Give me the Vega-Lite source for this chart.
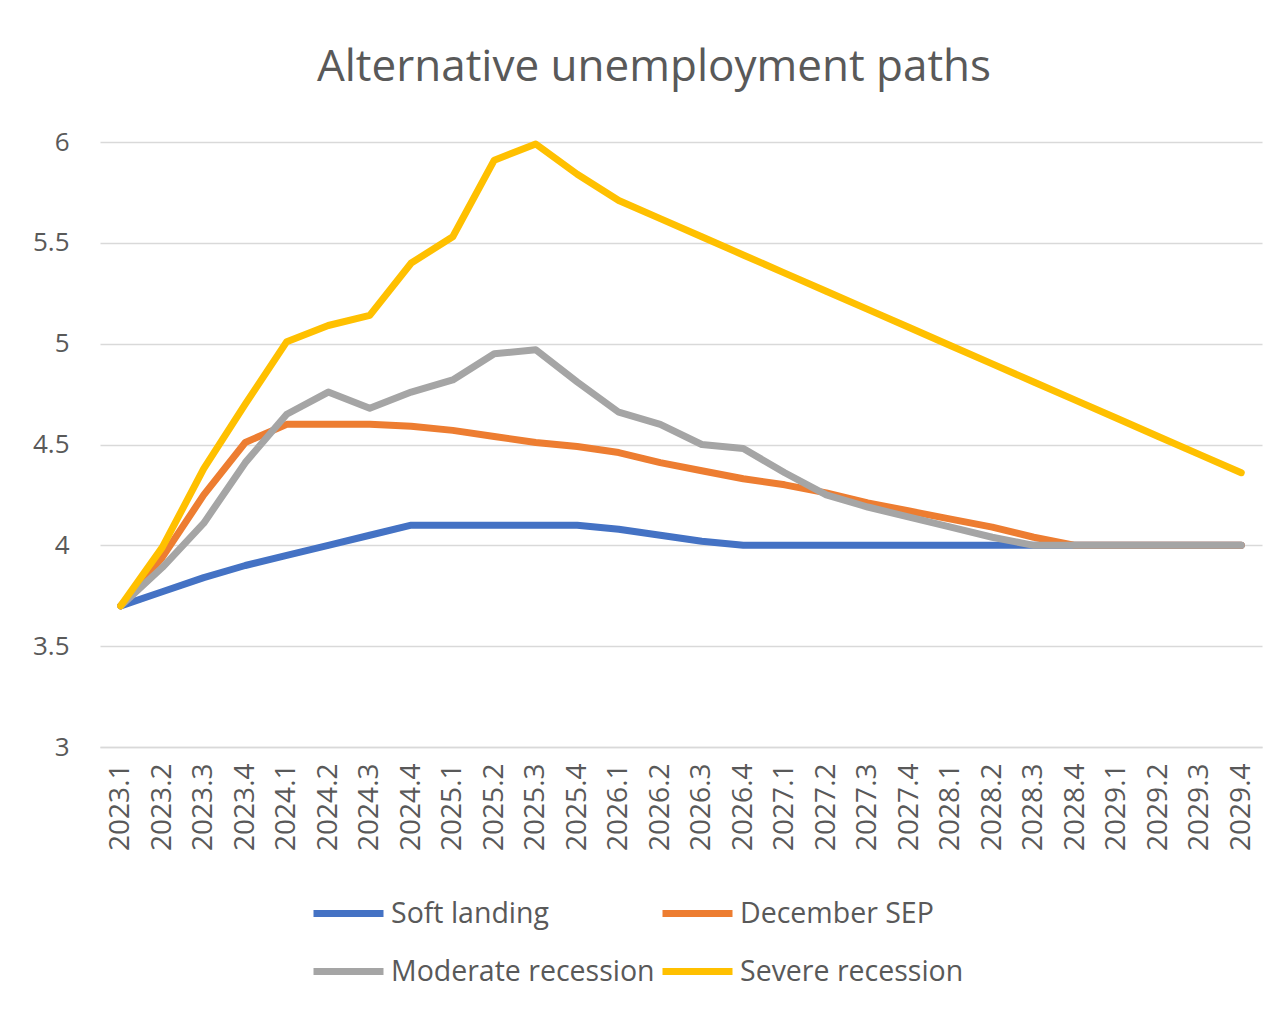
{
  "$schema": "https://vega.github.io/schema/vega-lite/v6.json",
  "autosize": {"type": "none"},
  "width": 1162,
  "height": 605,
  "padding": {"left": 100, "top": 142, "right": 26, "bottom": 268},
  "background": "white",
  "config": {"view": {"stroke": null}},
  "title": {"text": "Alternative unemployment paths", "font": "Open Sans", "fontSize": 44, "fontWeight": "normal", "color": "#595959", "anchor": "middle", "frame": "group", "dx": -27, "baseline": "alphabetic", "offset": 4},
  "datasets": {
    "d": [
      {"q": "2023.1", "s": "Soft landing", "v": 3.70},
      {"q": "2023.2", "s": "Soft landing", "v": 3.77},
      {"q": "2023.3", "s": "Soft landing", "v": 3.84},
      {"q": "2023.4", "s": "Soft landing", "v": 3.90},
      {"q": "2024.1", "s": "Soft landing", "v": 3.95},
      {"q": "2024.2", "s": "Soft landing", "v": 4.00},
      {"q": "2024.3", "s": "Soft landing", "v": 4.05},
      {"q": "2024.4", "s": "Soft landing", "v": 4.10},
      {"q": "2025.1", "s": "Soft landing", "v": 4.10},
      {"q": "2025.2", "s": "Soft landing", "v": 4.10},
      {"q": "2025.3", "s": "Soft landing", "v": 4.10},
      {"q": "2025.4", "s": "Soft landing", "v": 4.10},
      {"q": "2026.1", "s": "Soft landing", "v": 4.08},
      {"q": "2026.2", "s": "Soft landing", "v": 4.05},
      {"q": "2026.3", "s": "Soft landing", "v": 4.02},
      {"q": "2026.4", "s": "Soft landing", "v": 4.00},
      {"q": "2027.1", "s": "Soft landing", "v": 4.00},
      {"q": "2027.2", "s": "Soft landing", "v": 4.00},
      {"q": "2027.3", "s": "Soft landing", "v": 4.00},
      {"q": "2027.4", "s": "Soft landing", "v": 4.00},
      {"q": "2028.1", "s": "Soft landing", "v": 4.00},
      {"q": "2028.2", "s": "Soft landing", "v": 4.00},
      {"q": "2028.3", "s": "Soft landing", "v": 4.00},
      {"q": "2028.4", "s": "Soft landing", "v": 4.00},
      {"q": "2029.1", "s": "Soft landing", "v": 4.00},
      {"q": "2029.2", "s": "Soft landing", "v": 4.00},
      {"q": "2029.3", "s": "Soft landing", "v": 4.00},
      {"q": "2029.4", "s": "Soft landing", "v": 4.00},
      {"q": "2023.1", "s": "December SEP", "v": 3.70},
      {"q": "2023.2", "s": "December SEP", "v": 3.94},
      {"q": "2023.3", "s": "December SEP", "v": 4.25},
      {"q": "2023.4", "s": "December SEP", "v": 4.51},
      {"q": "2024.1", "s": "December SEP", "v": 4.60},
      {"q": "2024.2", "s": "December SEP", "v": 4.60},
      {"q": "2024.3", "s": "December SEP", "v": 4.60},
      {"q": "2024.4", "s": "December SEP", "v": 4.59},
      {"q": "2025.1", "s": "December SEP", "v": 4.57},
      {"q": "2025.2", "s": "December SEP", "v": 4.54},
      {"q": "2025.3", "s": "December SEP", "v": 4.51},
      {"q": "2025.4", "s": "December SEP", "v": 4.49},
      {"q": "2026.1", "s": "December SEP", "v": 4.46},
      {"q": "2026.2", "s": "December SEP", "v": 4.41},
      {"q": "2026.3", "s": "December SEP", "v": 4.37},
      {"q": "2026.4", "s": "December SEP", "v": 4.33},
      {"q": "2027.1", "s": "December SEP", "v": 4.30},
      {"q": "2027.2", "s": "December SEP", "v": 4.26},
      {"q": "2027.3", "s": "December SEP", "v": 4.21},
      {"q": "2027.4", "s": "December SEP", "v": 4.17},
      {"q": "2028.1", "s": "December SEP", "v": 4.13},
      {"q": "2028.2", "s": "December SEP", "v": 4.09},
      {"q": "2028.3", "s": "December SEP", "v": 4.04},
      {"q": "2028.4", "s": "December SEP", "v": 4.00},
      {"q": "2029.1", "s": "December SEP", "v": 4.00},
      {"q": "2029.2", "s": "December SEP", "v": 4.00},
      {"q": "2029.3", "s": "December SEP", "v": 4.00},
      {"q": "2029.4", "s": "December SEP", "v": 4.00},
      {"q": "2023.1", "s": "Moderate recession", "v": 3.70},
      {"q": "2023.2", "s": "Moderate recession", "v": 3.89},
      {"q": "2023.3", "s": "Moderate recession", "v": 4.11},
      {"q": "2023.4", "s": "Moderate recession", "v": 4.41},
      {"q": "2024.1", "s": "Moderate recession", "v": 4.65},
      {"q": "2024.2", "s": "Moderate recession", "v": 4.76},
      {"q": "2024.3", "s": "Moderate recession", "v": 4.68},
      {"q": "2024.4", "s": "Moderate recession", "v": 4.76},
      {"q": "2025.1", "s": "Moderate recession", "v": 4.82},
      {"q": "2025.2", "s": "Moderate recession", "v": 4.95},
      {"q": "2025.3", "s": "Moderate recession", "v": 4.97},
      {"q": "2025.4", "s": "Moderate recession", "v": 4.81},
      {"q": "2026.1", "s": "Moderate recession", "v": 4.66},
      {"q": "2026.2", "s": "Moderate recession", "v": 4.60},
      {"q": "2026.3", "s": "Moderate recession", "v": 4.50},
      {"q": "2026.4", "s": "Moderate recession", "v": 4.48},
      {"q": "2027.1", "s": "Moderate recession", "v": 4.36},
      {"q": "2027.2", "s": "Moderate recession", "v": 4.25},
      {"q": "2027.3", "s": "Moderate recession", "v": 4.19},
      {"q": "2027.4", "s": "Moderate recession", "v": 4.14},
      {"q": "2028.1", "s": "Moderate recession", "v": 4.09},
      {"q": "2028.2", "s": "Moderate recession", "v": 4.04},
      {"q": "2028.3", "s": "Moderate recession", "v": 4.00},
      {"q": "2028.4", "s": "Moderate recession", "v": 4.00},
      {"q": "2029.1", "s": "Moderate recession", "v": 4.00},
      {"q": "2029.2", "s": "Moderate recession", "v": 4.00},
      {"q": "2029.3", "s": "Moderate recession", "v": 4.00},
      {"q": "2029.4", "s": "Moderate recession", "v": 4.00},
      {"q": "2023.1", "s": "Severe recession", "v": 3.70},
      {"q": "2023.2", "s": "Severe recession", "v": 3.99},
      {"q": "2023.3", "s": "Severe recession", "v": 4.38},
      {"q": "2023.4", "s": "Severe recession", "v": 4.70},
      {"q": "2024.1", "s": "Severe recession", "v": 5.01},
      {"q": "2024.2", "s": "Severe recession", "v": 5.09},
      {"q": "2024.3", "s": "Severe recession", "v": 5.14},
      {"q": "2024.4", "s": "Severe recession", "v": 5.40},
      {"q": "2025.1", "s": "Severe recession", "v": 5.53},
      {"q": "2025.2", "s": "Severe recession", "v": 5.91},
      {"q": "2025.3", "s": "Severe recession", "v": 5.99},
      {"q": "2025.4", "s": "Severe recession", "v": 5.84},
      {"q": "2026.1", "s": "Severe recession", "v": 5.71},
      {"q": "2026.2", "s": "Severe recession", "v": 5.62},
      {"q": "2026.3", "s": "Severe recession", "v": 5.53},
      {"q": "2026.4", "s": "Severe recession", "v": 5.44},
      {"q": "2027.1", "s": "Severe recession", "v": 5.35},
      {"q": "2027.2", "s": "Severe recession", "v": 5.26},
      {"q": "2027.3", "s": "Severe recession", "v": 5.17},
      {"q": "2027.4", "s": "Severe recession", "v": 5.08},
      {"q": "2028.1", "s": "Severe recession", "v": 4.99},
      {"q": "2028.2", "s": "Severe recession", "v": 4.90},
      {"q": "2028.3", "s": "Severe recession", "v": 4.81},
      {"q": "2028.4", "s": "Severe recession", "v": 4.72},
      {"q": "2029.1", "s": "Severe recession", "v": 4.63},
      {"q": "2029.2", "s": "Severe recession", "v": 4.54},
      {"q": "2029.3", "s": "Severe recession", "v": 4.45},
      {"q": "2029.4", "s": "Severe recession", "v": 4.36}
    ]
  },
  "data": {"name": "d"},
  "mark": {"type": "line", "strokeWidth": 7, "strokeJoin": "round", "strokeCap": "round"},
  "encoding": {
    "x": {
      "field": "q", "type": "ordinal", "sort": null,
      "scale": {"type": "point", "padding": 0.5},
      "axis": {"title": null, "labelAngle": 270, "labelFontSize": 28, "labelFont": "Open Sans", "labelColor": "#595959", "ticks": false, "tickSize": 0, "labelPadding": 16, "domainColor": "#D9D9D9", "domainWidth": 1.5, "grid": false}
    },
    "y": {
      "field": "v", "type": "quantitative",
      "scale": {"domain": [3, 6], "zero": false, "nice": false},
      "axis": {"title": null, "values": [3, 3.5, 4, 4.5, 5, 5.5, 6], "format": ".1~f", "domain": false, "ticks": false, "tickSize": 0, "labelPadding": 31, "labelFontSize": 26, "labelFont": "Open Sans", "labelColor": "#595959", "gridColor": "#D9D9D9", "gridWidth": 1.5}
    },
    "color": {
      "field": "s", "type": "nominal",
      "scale": {"domain": ["Soft landing", "December SEP", "Moderate recession", "Severe recession"], "range": ["#4472C4", "#ED7D31", "#A5A5A5", "#FFC000"]},
      "legend": {"title": null, "orient": "none", "legendX": 210, "legendY": 733, "direction": "horizontal", "columns": 2, "symbolType": "stroke", "symbolSize": 4900, "symbolStrokeWidth": 7, "labelFont": "Open Sans", "labelFontSize": 28.5, "labelColor": "#595959", "labelOffset": 4, "columnPadding": -7, "rowPadding": 5, "padding": 0, "labelLimit": 400}
    }
  }
}
